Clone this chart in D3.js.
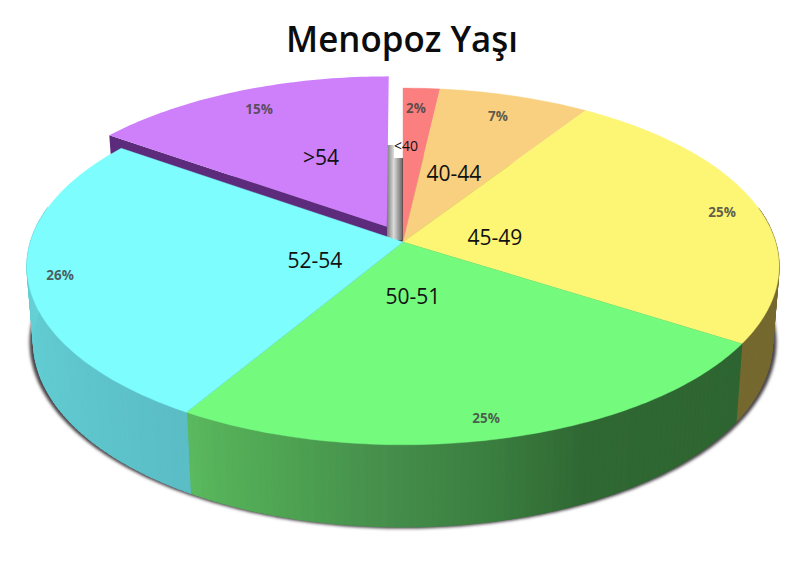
<!DOCTYPE html>
<html lang="tr">
<head>
<meta charset="utf-8">
<title>Menopoz Yaşı</title>
<script src="https://cdn.jsdelivr.net/npm/d3@7"></script>
<style>
html,body{margin:0;padding:0;background:#fff;}
svg{display:block;}
text{font-family:"Open Sans","Noto Sans",sans-serif;}
</style>
</head>
<body>
<svg id="chart" width="800" height="564"></svg>
<script>
// ---- data ----
const title = "Menopoz Yaşı";
const categories = ["<40", "40-44", "45-49", "50-51", "52-54", ">54"];
const shares = [0.018, 0.074, 0.2485, 0.2452, 0.2623, 0.152];
const explodedCategory = ">54";

// ---- styles and layout ----
const topColors = ["#fb7f7f", "#f8d07f", "#fdf574", "#74fb7e", "#7dfdfd", "#ce80fb"];
const sideStops = [
  [0,   "#75692f"], [122.6, "#75692f"],
  [122.61, "#2e6532"], [155, "#306833"], [168, "#3a7e3f"], [183, "#468f4c"], [196, "#4ea352"], [210.8, "#5ab95e"],
  [210.81, "#5bbdc6"], [240, "#60c9cf"], [280, "#66d4d8"], [360, "#66d4d8"]
];
const categoryAnchors = [[406, 151], [454, 180.5], [495, 245], [413, 304], [315, 268], [321, 165]];
const shareAnchors = [[416, 113], [498, 120.5], [722, 216.5], [486, 423], [60, 280], [259, 114]];

const cx = 403, k = 0.137;
const topPlane = {A: 372.5, B: 175, cy: 242};
const basePlane = {A: 366, B: 182, cy: 316};
const explode = {u: -0.044, v: 0.0875};

function project(t, r, plane, off) {
  const u = r * Math.sin(t) + (off ? off.u : 0);
  const v = r * Math.cos(t) + (off ? off.v : 0);
  const d = 1 + k * v;
  return [cx + plane.A * u / d, plane.cy - plane.B * v / d];
}

const svg = d3.select("#chart");
const defs = svg.append("defs");
defs.append("filter").attr("id", "blur")
  .attr("x", "-5%").attr("y", "-5%").attr("width", "110%").attr("height", "110%")
  .append("feGaussianBlur").attr("stdDeviation", 1.6);
const grey = defs.append("linearGradient").attr("id", "wall");
[[0, "#7c7c7c"], [0.45, "#dcdcdc"], [1, "#6e6e6e"]].forEach(([o, c]) =>
  grey.append("stop").attr("offset", o).attr("stop-color", c));

const arcs = d3.pie().sort(null).value(d => d)(shares);
const line = d3.line();
const deg = d3.scaleLinear().domain([0, 360]).range([0, 2 * Math.PI]);
const sideColor = d3.scaleLinear()
  .domain(sideStops.map(s => s[0])).range(sideStops.map(s => s[1]))
  .interpolate(d3.interpolateRgb);

function rim(a0, a1, plane, off) {
  const n = Math.max(2, Math.ceil((a1 - a0) / deg(1)));
  return d3.range(n + 1).map(i => project(a0 + (a1 - a0) * i / n, 1, plane, off));
}
function wedge(a, plane, off) {
  return line([project(0, 0, plane, off), ...rim(a.startAngle, a.endAngle, plane, off)]) + "Z";
}

// shadow under the base
svg.append("path")
  .attr("d", line(rim(0, 2 * Math.PI, {A: 370, B: 183, cy: 316.5})) + "Z")
  .attr("fill", "#4a4448")
  .attr("filter", "url(#blur)");

// grey wall in the gap
svg.append("rect").attr("x", 387).attr("y", 145).attr("width", 15).attr("height", 95)
  .attr("fill", "url(#wall)");
svg.append("rect").attr("x", 394).attr("y", 145).attr("width", 9).attr("height", 13)
  .attr("fill", "#fff");

// exploded slice
const isExploded = a => categories[a.index] === explodedCategory;
arcs.filter(isExploded).forEach(a => {
  const p = [
    project(0, 0, topPlane, explode),
    project(a.startAngle, 1, topPlane, explode),
    project(a.startAngle, 1, basePlane, explode),
    project(0, 0, basePlane, explode)
  ];
  svg.append("path").attr("d", line(p) + "Z").attr("fill", "#5d2b7c");
  svg.append("path").attr("d", wedge(a, topPlane, explode)).attr("fill", topColors[a.index]);
});

// side of the main pie
const sideGroup = svg.append("g");
arcs.filter(a => !isExploded(a)).forEach(a => {
  const n = Math.ceil((a.endAngle - a.startAngle) / deg(1));
  d3.range(n).forEach(i => {
    const t0 = a.startAngle + (a.endAngle - a.startAngle) * i / n;
    const t1 = a.startAngle + (a.endAngle - a.startAngle) * (i + 1) / n;
    const c = (t0 + t1) / 2;
    if (Math.cos(c) > 0.2) return;
    const col = sideColor(c * 180 / Math.PI);
    sideGroup.append("path")
      .attr("d", line([project(t0, 1, topPlane), project(t1, 1, topPlane),
                       project(t1, 1, basePlane), project(t0, 1, basePlane)]) + "Z")
      .attr("fill", col).attr("stroke", col).attr("stroke-width", 1.2);
  });
});

// top of the main pie
svg.append("g").selectAll("path")
  .data(arcs.filter(a => !isExploded(a)))
  .join("path")
  .attr("d", a => wedge(a, topPlane))
  .attr("fill", a => topColors[a.index])
  .attr("stroke", a => topColors[a.index])
  .attr("stroke-width", 0.4);

// texts
svg.append("text").attr("x", 402).attr("y", 52)
  .attr("text-anchor", "middle").attr("font-size", 36.5).attr("font-weight", 600)
  .attr("textLength", 232).attr("lengthAdjust", "spacingAndGlyphs")
  .attr("fill", "#0c0c0c").text(title);

svg.append("g").selectAll("text")
  .data(categories)
  .join("text")
  .attr("x", (d, i) => categoryAnchors[i][0])
  .attr("y", (d, i) => categoryAnchors[i][1])
  .attr("text-anchor", "middle")
  .attr("font-size", d => d === "<40" ? 14 : 21)
  .attr("fill", "#111")
  .text(d => d);

svg.append("g").selectAll("text")
  .data(shares)
  .join("text")
  .attr("x", (d, i) => shareAnchors[i][0])
  .attr("y", (d, i) => shareAnchors[i][1])
  .attr("text-anchor", "middle")
  .attr("font-size", 13.5).attr("font-weight", 700)
  .attr("fill", "#444").attr("fill-opacity", 0.85)
  .text(d3.format(".0%"));
</script>
</body>
</html>
